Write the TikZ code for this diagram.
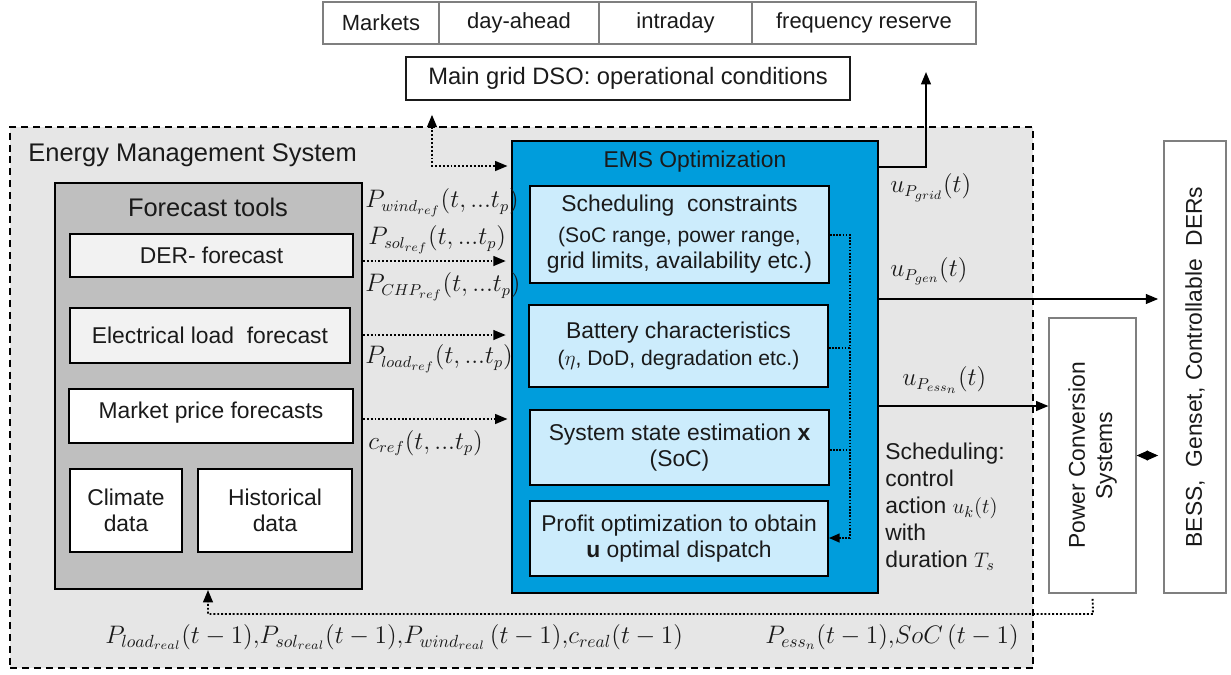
\documentclass[tikz,border=0pt]{standalone}
\usepackage{fontspec}
\setmainfont{Liberation Sans}
\usetikzlibrary{arrows.meta}

\definecolor{emsbg}{HTML}{E6E6E6}
\definecolor{fcgray}{HTML}{BFBFBF}
\definecolor{pale}{HTML}{F2F2F2}
\definecolor{emsblue}{HTML}{009DDC}
\definecolor{lightblue}{HTML}{CCECFC}
\definecolor{thinline}{HTML}{7F7F7F}
\definecolor{ink}{HTML}{1A1A1A}

\begin{document}
\begin{tikzpicture}[x=0.02cm,y=-0.02cm,
  every node/.style={text=ink},
  % rectangle given by its left, top, right and bottom edges
  span/.style n args={4}{minimum width={(#3-#1)*0.02cm}, minimum height={(#4-#2)*0.02cm},
    at={({(#1+#3)/2},{(#2+#4)/2})}},
  box/.style={draw=black, line width=1.1pt, inner sep=0pt, align=center,
    font=\fontsize{13}{15}\selectfont},
  thinbox/.style={draw=thinline, line width=0.6pt, inner sep=0pt, align=center,
    fill=white, font=\fontsize{12.5}{15}\selectfont},
  lbl/.style={font=\fontsize{13.5}{16}\selectfont, inner sep=0pt, anchor=west},
  tip/.style={-{Triangle[length=7pt,width=5.5pt]}},
  solidarr/.style={line width=1.1pt, tip},
  dotline/.style={line width=1.1pt, dash pattern=on 1.1pt off 1.1pt},
  dotarr/.style={dotline, tip},
  thindot/.style={line width=0.9pt, dash pattern=on 0.9pt off 0.9pt},
]
\useasboundingbox (0,0) rectangle (1231,674);

% market products and grid operator
\node[thinbox, span={323}{2}{439}{44}] (mk1) {Markets};
\node[thinbox, span={439}{2}{599}{44}] (mk2) {day-ahead};
\node[thinbox, span={599}{2}{752}{44}] (mk3) {intraday};
\node[thinbox, span={752}{2}{976}{44}] (mk4) {frequency reserve};
\node[thinbox, draw=ink, line width=0.8pt, span={406}{57}{850}{100},
  font=\fontsize{13.5}{16}\selectfont] (dso) {Main grid DSO: operational conditions};

% energy management system frame
\node[span={10}{127}{1033}{668}, inner sep=0pt, draw=black, fill=emsbg,
  line width=1.1pt, dash pattern=on 4pt off 2.8pt] (emsys) {};
\node[anchor=west, inner sep=0pt, font=\fontsize{14.5}{17}\selectfont] (emstitle)
  at (28,155) {Energy Management System};

% forecast tools
\node[box, fill=fcgray, span={55}{183}{362}{589}] (fc) {};
\node[inner sep=0pt, font=\fontsize{14.5}{17}\selectfont] (fctitle) at (208,207) {Forecast tools};
\node[box, fill=pale, span={70}{234}{353}{277}] (der) {DER- forecast};
\node[box, fill=pale, span={70}{308}{350}{363}] (load) {Electrical load\ \ forecast};
\node[box, fill=white, span={69}{389}{353}{443}, text depth=7pt] (price) {Market price forecasts};
\node[box, fill=white, span={70}{469}{182}{552}] (clim) {Climate\\data};
\node[box, fill=white, span={198}{469}{352}{552}] (hist) {Historical\\data};

% EMS optimization
\node[box, fill=emsblue, span={512}{141}{878}{593}] (ems) {};
\node[inner sep=0pt, font=\fontsize{13}{15}\selectfont] (emsopt) at (695,162) {EMS Optimization};
\node[box, fill=lightblue, span={530}{186}{829}{283}] (sched)
  {Scheduling\ \ constraints\\[2.5pt]\fontsize{12}{14.2}\selectfont(SoC range, power range,\\grid limits, availability etc.)};
\node[box, fill=lightblue, span={529}{305}{828}{387}] (batt)
  {Battery characteristics\\\fontsize{12}{14.2}\selectfont($\eta$, DoD, degradation etc.)};
\node[box, fill=lightblue, span={530}{410}{829}{485}] (state)
  {System state estimation $\mathbf{x}$\\(SoC)};
\node[box, fill=lightblue, span={530}{501}{828}{576}] (profit)
  {Profit optimization to obtain\\\textbf{u} optimal dispatch};

% controlled equipment
\node[thinbox, span={1049}{318}{1136}{593}] (pcs) {};
\node[rotate=90, align=center, inner sep=0pt, font=\fontsize{13}{15.5}\selectfont]
  (pcstext) at (pcs.center) {Power Conversion\\Systems};
\node[thinbox, span={1164}{141}{1226}{593}] (bess) {};
\node[rotate=90, inner sep=0pt, font=\fontsize{13}{15.5}\selectfont]
  (besstext) at (bess.center) {BESS,\ \ Genset, Controllable\ \ DERs};

% forecast signals
\coordinate (r1) at (0,261);
\coordinate (r2) at (0,335);
\coordinate (r3) at (0,419);
\draw[dotarr, shorten >=3pt] (fc.east |- r1) -- (ems.west |- r1);
\draw[dotarr, shorten >=3pt] (fc.east |- r2) -- (ems.west |- r2);
\draw[dotarr, shorten >=2pt] (fc.east |- r3) -- (ems.west |- r3);
\node[lbl] (lwind) at (365,203) {$P_{wind_{ref}}(t, ...t_p)$};
\node[lbl] (lsol)  at (368,240) {$P_{sol_{ref}}(t, ...t_p)$};
\node[lbl] (lchp)  at (365,287) {$P_{CHP_{ref}}(t, ...t_p)$};
\node[lbl] (lload) at (365,359) {$P_{load_{ref}}(t, ...t_p)$};
\node[lbl] (lc)    at (368,443) {$c_{ref}(t, ...t_p)$};

% exchange with the grid operator
\coordinate (dsobend) at (432,166);
\draw[dotline, {Triangle[length=7pt,width=5.5pt]}-{Triangle[length=7pt,width=5.5pt]},
  shorten <=8pt, shorten >=2pt] (dso.south -| dsobend) -- (dsobend) -- (ems.west |- dsobend);

% internal data flow of the optimization
\coordinate (bus) at (850,0);
\draw[thindot] (sched.east |- 0,235) -| (bus |- 0,538);
\draw[thindot] (batt.east |- 0,348) -- (bus |- 0,348);
\draw[thindot] (state.east |- 0,450) -- (bus |- 0,450);
\draw[thindot, -{Triangle[length=6pt,width=5pt]}] (bus |- 0,538) -- (profit.east |- 0,538);

% control actions
\coordinate (ygrid) at (0,167);
\coordinate (ygen) at (0,299);
\coordinate (yess) at (0,406);
\coordinate (gridtip) at (926,72);
\draw[solidarr] (ems.east |- ygrid) -| (gridtip);
\draw[solidarr, shorten >=3pt] (ems.east |- ygen) -- (bess.west |- ygen);
\draw[solidarr] (ems.east |- yess) -- (pcs.west |- yess);
\node[lbl] (lgrid) at (890,188) {$u_{P_{grid}}(t)$};
\node[lbl] (lgen)  at (890,271) {$u_{P_{gen}}(t)$};
\node[lbl] (less)  at (902,380) {$u_{P_{ess_n}}(t)$};
\node[anchor=north west, align=left, inner sep=0pt, font=\fontsize{13}{15.3}\selectfont]
  (schednote) at (885,443) {Scheduling:\\control\\action $u_k(t)$\\with\\duration $T_s$};

% power conversion to storage and DERs
\draw[{Triangle[length=6.5pt,width=5.5pt]}-{Triangle[length=6.5pt,width=5.5pt]}, line width=0.8pt,
  shorten >=3pt] (pcs.east) -- (bess.west |- pcs.east);

% measured feedback
\coordinate (fbcorner) at (1093,614);
\coordinate (fbleft) at (208,614);
\draw[dotarr, shorten <=3pt] (pcs.south) -- (fbcorner) -- (fbleft) -- (fc.south -| fbleft);
\node[lbl, font=\fontsize{14.5}{16}\selectfont] (lreal) at (105,637)
  {$P_{load_{real}}(t-1){,}P_{sol_{real}}(t-1){,}P_{wind_{real}}\,(t-1){,}c_{real}(t-1)$};
\node[lbl, font=\fontsize{14}{16}\selectfont] (less1) at (765,637) {$P_{ess_n}(t-1){,}SoC\,(t-1)$};
\end{tikzpicture}
\end{document}
